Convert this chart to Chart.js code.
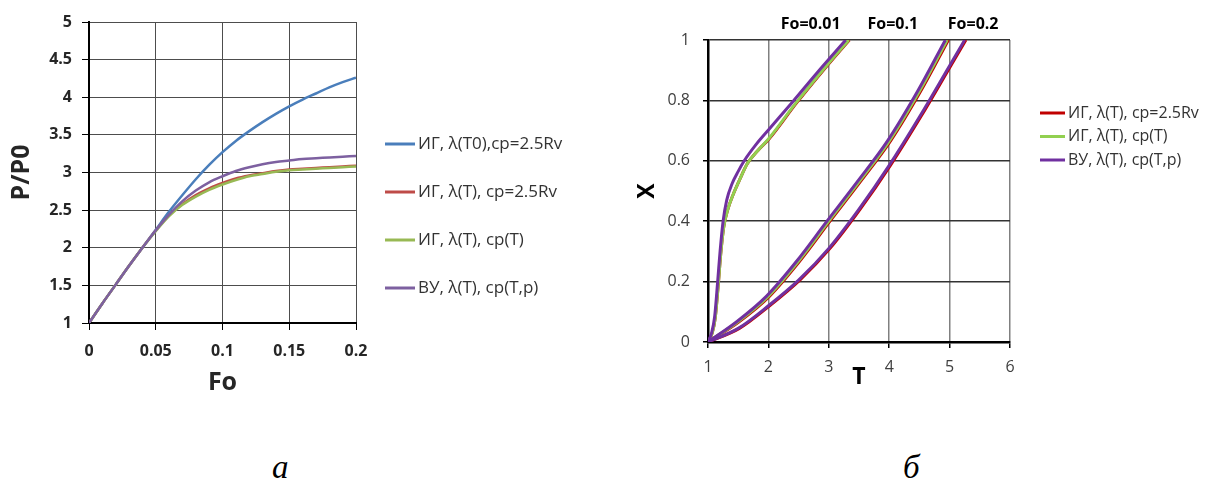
<!DOCTYPE html>
<html>
<head>
<meta charset="utf-8">
<script src="https://cdn.jsdelivr.net/npm/chart.js@4.4.1/dist/chart.umd.min.js"></script>
<style>
  body { margin: 0; background: #fff; width: 1206px; height: 481px; position: relative; overflow: hidden; }
  canvas { position: absolute; top: 0; }
  #chartP { left: 0; }
  #chartX { left: 632px; }
  .cap { position: absolute; top: 451px; font: italic 33px "Liberation Serif", serif; line-height: 1; color: #000; }
</style>
</head>
<body>
<canvas id="chartP" width="600" height="400"></canvas>
<canvas id="chartX" width="574" height="400"></canvas>
<div class="cap" style="left:272px">а</div>
<div class="cap" style="left:903px">б</div>
<script>
// ---- pressure rise P/P0 vs Fo ----
const foGrid = [0, 0.01, 0.02, 0.03, 0.04, 0.05, 0.06, 0.07, 0.08, 0.09, 0.1,
  0.11, 0.12, 0.13, 0.14, 0.15, 0.16, 0.17, 0.18, 0.19, 0.2];
const pBlue = [1, 1.26, 1.51, 1.76, 2.0, 2.24, 2.48, 2.7, 2.91, 3.1, 3.27,
  3.42, 3.55, 3.67, 3.78, 3.88, 3.97, 4.05, 4.13, 4.2, 4.26];
const pRed = [1, 1.26, 1.51, 1.76, 2.0, 2.23, 2.43, 2.58, 2.7, 2.79, 2.86,
  2.92, 2.96, 2.99, 3.02, 3.04, 3.05, 3.06, 3.07, 3.08, 3.09];
const pGreen = [1, 1.26, 1.51, 1.76, 2.0, 2.22, 2.42, 2.57, 2.68, 2.77, 2.84,
  2.9, 2.95, 2.98, 3.01, 3.03, 3.04, 3.05, 3.06, 3.07, 3.08];
const pPurple = [1, 1.26, 1.51, 1.76, 2.0, 2.23, 2.44, 2.62, 2.76, 2.87, 2.95,
  3.02, 3.07, 3.11, 3.14, 3.16, 3.18, 3.19, 3.2, 3.21, 3.22];
const foTicks = [0, 0.05, 0.1, 0.15, 0.2];
const pTicks = [1, 1.5, 2, 2.5, 3, 3.5, 4, 4.5, 5];
const pLabels = ['ИГ, λ(T0),cp=2.5Rv', 'ИГ, λ(T), cp=2.5Rv', 'ИГ, λ(T), cp(T)', 'ВУ, λ(T), cp(T,p)'];

// ---- X(T) profiles at Fo = 0.01 / 0.1 / 0.2 ----
const tRed001 = [1, 1.07, 1.12, 1.17, 1.21, 1.26, 1.33, 1.42, 1.53, 1.65, 1.83, 2.01, 2.46, 2.91, 3.34];
const xRed001 = [0, 0.03, 0.08, 0.19, 0.29, 0.38, 0.44, 0.49, 0.54, 0.59, 0.635, 0.672, 0.79, 0.9, 1.0];
const tRed01 = [1, 1.52, 2.02, 2.52, 3.02, 3.52, 4.02, 4.52, 4.98];
const xRed01 = [0, 0.068, 0.152, 0.268, 0.4, 0.53, 0.665, 0.83, 1.0];
const tRed02 = [1, 1.52, 2.02, 2.52, 3.02, 3.52, 4.02, 4.52, 5.02, 5.27];
const xRed02 = [0, 0.045, 0.12, 0.205, 0.31, 0.44, 0.585, 0.745, 0.915, 1.0];

const tGreen001 = [1, 1.07, 1.12, 1.17, 1.21, 1.26, 1.33, 1.42, 1.53, 1.65, 1.83, 2.0, 2.45, 2.9, 3.33];
const xGreen001 = [0, 0.03, 0.08, 0.19, 0.29, 0.38, 0.44, 0.49, 0.54, 0.59, 0.635, 0.672, 0.79, 0.9, 1.0];
const tGreen01 = [1, 1.5, 2, 2.5, 3, 3.5, 4, 4.5, 4.96];
const xGreen01 = [0, 0.068, 0.152, 0.268, 0.4, 0.53, 0.665, 0.83, 1.0];

const tPurple001 = [1, 1.06, 1.11, 1.16, 1.2, 1.25, 1.31, 1.4, 1.5, 1.6, 1.8, 2.0, 2.4, 2.8, 3.28];
const xPurple001 = [0, 0.03, 0.084, 0.2, 0.3, 0.4, 0.47, 0.525, 0.565, 0.6, 0.655, 0.702, 0.795, 0.89, 1.0];
const tPurple01 = [1, 1.48, 1.97, 2.47, 2.97, 3.47, 3.97, 4.47, 4.93];
const xPurple01 = [0, 0.068, 0.152, 0.268, 0.4, 0.53, 0.665, 0.83, 1.0];
const tPurple02 = [1, 1.5, 2, 2.5, 3, 3.5, 4, 4.5, 5, 5.25];
const xPurple02 = [0, 0.045, 0.12, 0.205, 0.31, 0.44, 0.585, 0.745, 0.915, 1.0];

const tTicks = [1, 2, 3, 4, 5, 6];
const xTicks = [0, 0.2, 0.4, 0.6, 0.8, 1];
const foMarkT = [2.7, 4.06, 5.39];
const foMarkLabels = ['Fo=0.01', 'Fo=0.1', 'Fo=0.2'];
const xLabels = ['ИГ, λ(T), cp=2.5Rv', 'ИГ, λ(T), cp(T)', 'ВУ, λ(T), cp(T,p)'];

Chart.defaults.font.family = "'Open Sans', sans-serif";

// line key drawn to the right of the plot area
const keyPlugin = {
  id: 'key',
  afterDraw(chart, args, opts) {
    const { ctx, chartArea } = chart;
    const seen = new Set();
    let i = 0;
    ctx.save();
    ctx.font = opts.font;
    ctx.textBaseline = 'middle';
    chart.data.datasets.forEach(ds => {
      if (seen.has(ds.label)) return;
      seen.add(ds.label);
      const x = chartArea.right + opts.gap;
      const y = opts.top + i * opts.step;
      ctx.strokeStyle = ds.borderColor;
      ctx.lineWidth = 3;
      ctx.beginPath();
      ctx.moveTo(x, y);
      ctx.lineTo(x + opts.line, y);
      ctx.stroke();
      ctx.fillStyle = '#333';
      ctx.fillText(ds.label, x + opts.line + 3, y);
      i++;
    });
    ctx.restore();
  }
};

const toPoints = (xs, ys) => xs.map((v, i) => ({ x: v, y: ys[i] }));
const series = (label, color, order, pts, width) => ({
  label, data: pts, order,
  borderColor: color, backgroundColor: color,
  borderWidth: width, pointRadius: 0,
  cubicInterpolationMode: 'monotone', fill: false,
});
const setTicks = list => s => { s.ticks = list.map(v => ({ value: v })); };

new Chart(document.getElementById('chartP'), {
  type: 'line',
  data: {
    datasets: [
      series(pLabels[0], '#4A7EBB', 3, toPoints(foGrid, pBlue), 2.5),
      series(pLabels[1], '#BE4B48', 2, toPoints(foGrid, pRed), 2.5),
      series(pLabels[2], '#98B954', 1, toPoints(foGrid, pGreen), 2.5),
      series(pLabels[3], '#7D60A0', 0, toPoints(foGrid, pPurple), 2.5),
    ],
  },
  plugins: [keyPlugin],
  options: {
    responsive: false,
    animation: false,
    events: [],
    layout: { padding: { top: 22, right: 244, bottom: 2, left: 0 } },
    plugins: {
      legend: { display: false },
      tooltip: { enabled: false },
      key: { gap: 29, top: 144, step: 48, line: 30, font: "17px 'Open Sans'" },
    },
    scales: {
      x: {
        type: 'linear', min: 0, max: 0.2,
        afterBuildTicks: setTicks(foTicks),
        afterFit: s => { s.height = 75; },
        ticks: { callback: v => String(v), font: { size: 16, weight: 'bold' }, color: '#262626', padding: 12, maxRotation: 0 },
        grid: { color: '#4d4d4d', lineWidth: 1, tickLength: 7, tickColor: '#000' },
        border: { color: '#000', width: 2 },
        title: { display: true, text: 'Fo', font: { size: 25, weight: 'bold' }, color: '#262626', padding: 0 },
      },
      y: {
        min: 1, max: 5,
        afterBuildTicks: setTicks(pTicks),
        afterFit: s => { s.width = 89; },
        ticks: { callback: v => String(v), font: { size: 16, weight: 'bold' }, color: '#262626', padding: 10 },
        grid: { color: '#4d4d4d', lineWidth: 1, tickLength: 7, tickColor: '#000' },
        border: { color: '#000', width: 2 },
        title: { display: true, text: 'P/P0', font: { size: 25, weight: 'bold' }, color: '#262626', padding: { top: 7, bottom: 0 } },
      },
    },
  },
});

const purple = '#7030A0', green = '#92D050', red = '#C00000';
new Chart(document.getElementById('chartX'), {
  type: 'line',
  data: {
    datasets: [
      series(xLabels[0], red, 2, toPoints(tRed001, xRed001), 3),
      series(xLabels[0], red, 2, toPoints(tRed01, xRed01), 3),
      series(xLabels[0], red, 2, toPoints(tRed02, xRed02), 3),
      series(xLabels[1], green, 1, toPoints(tGreen001, xGreen001), 3),
      series(xLabels[1], green, 1, toPoints(tGreen01, xGreen01), 3),
      series(xLabels[2], purple, 0, toPoints(tPurple001, xPurple001), 3),
      series(xLabels[2], purple, 0, toPoints(tPurple01, xPurple01), 3),
      series(xLabels[2], purple, 0, toPoints(tPurple02, xPurple02), 3),
    ],
  },
  plugins: [keyPlugin],
  options: {
    responsive: false,
    animation: false,
    events: [],
    layout: { padding: { top: 0, right: 196, bottom: 9, left: 0 } },
    plugins: {
      legend: { display: false },
      tooltip: { enabled: false },
      key: { gap: 30, top: 113, step: 23.5, line: 25, font: "16px 'Open Sans'" },
    },
    scales: {
      x: {
        type: 'linear', min: 1, max: 6,
        afterBuildTicks: setTicks(tTicks),
        afterFit: s => { s.height = 49; },
        ticks: { callback: v => String(v), font: { size: 16 }, color: '#404040', padding: 10, maxRotation: 0 },
        grid: { color: '#808080', lineWidth: 1.5, tickLength: 6, tickColor: '#000' },
        border: { color: '#000', width: 2.5 },
        title: { display: true, text: 'T', font: { size: 23, weight: 'bold' }, color: '#000', padding: 0 },
      },
      x2: {
        type: 'linear', position: 'top', min: 1, max: 6,
        afterBuildTicks: setTicks(foMarkT),
        afterFit: s => { s.height = 40; },
        ticks: { callback: (v, i) => foMarkLabels[i], font: { size: 16, weight: 'bold' }, color: '#000', padding: 6, autoSkip: false, maxRotation: 0 },
        grid: { display: false, drawTicks: false },
        border: { display: false },
      },
      y: {
        min: 0, max: 1,
        afterBuildTicks: setTicks(xTicks),
        afterFit: s => { s.width = 76; },
        ticks: { callback: v => String(v), font: { size: 16 }, color: '#404040', padding: 13 },
        grid: { color: '#333', lineWidth: 1.5, tickLength: 5, tickColor: '#000' },
        border: { color: '#000', width: 2.5 },
        title: { display: true, text: 'X', font: { size: 23, weight: 'bold' }, color: '#000', padding: { top: 2, bottom: 0 } },
      },
    },
  },
});
</script>
</body>
</html>
